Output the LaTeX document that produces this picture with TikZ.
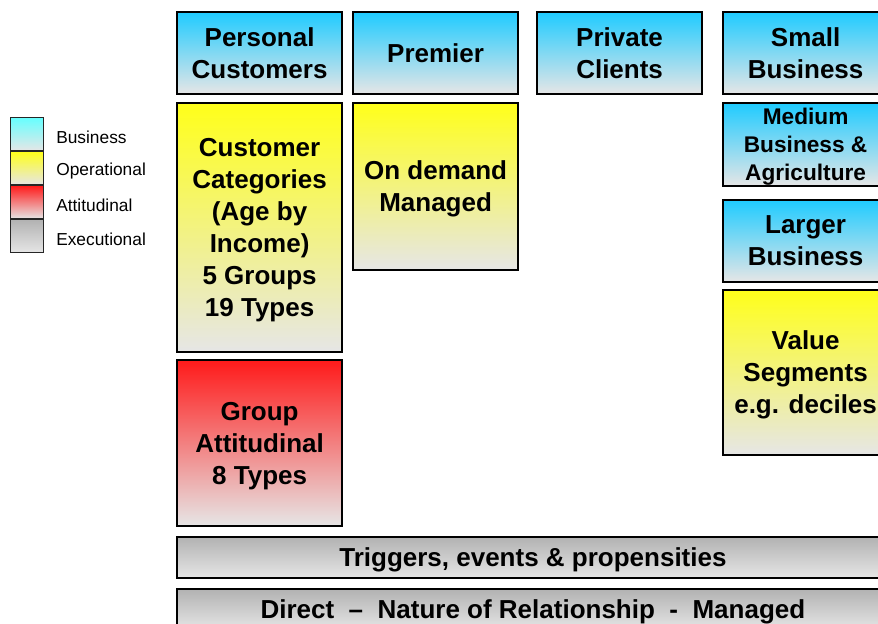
\documentclass[tikz,border=0pt]{standalone}
\usepackage{fontspec}
\setmainfont{Liberation Sans}
\usepackage{tikz}

\definecolor{bizblue}{HTML}{1FCBFF}
\definecolor{legblue}{HTML}{66FFFF}
\definecolor{opyellow}{HTML}{FFFF1A}
\definecolor{attred}{HTML}{FF1A1A}
\definecolor{exgrey}{HTML}{B2B2B2}
\definecolor{fadegrey}{HTML}{E6E6E6}

\begin{document}
\begin{tikzpicture}[x=0.75pt,y=-0.75pt,
    box/.style={draw=black, line width=1.4pt, anchor=north west, minimum width=124pt,
      minimum height=61.5pt, align=center, inner sep=0pt, text depth=0pt,
      font=\bfseries\fontsize{19.5}{24}\selectfont},
    business/.style={box, top color=bizblue, bottom color=fadegrey},
    operational/.style={box, top color=opyellow, bottom color=fadegrey},
    attitudinal/.style={box, top color=attred, bottom color=fadegrey},
    executional/.style={box, top color=exgrey, bottom color=fadegrey,
      minimum width=534pt, minimum height=30.75pt},
    legbox/.style={draw=black!85, line width=0.75pt, anchor=north west,
      minimum width=25pt, minimum height=25pt, inner sep=0pt},
    legtext/.style={anchor=west, inner sep=0pt, font=\fontsize{13}{15}\selectfont}]
    \useasboundingbox (0,0) rectangle (878,624);
    \clip (0,0) rectangle (878,624);

    % legend
    \node[legbox, top color=legblue, bottom color=fadegrey] (legbiz) at (10,117) {};
    \node[legbox, top color=opyellow, bottom color=fadegrey] (legop) at (10,151) {};
    \node[legbox, top color=attred, bottom color=fadegrey] (legatt) at (10,185) {};
    \node[legbox, top color=exgrey, bottom color=fadegrey] (legex) at (10,219) {};
    \node[legtext] (legbiztxt) at (56,137) {Business};
    \node[legtext] (legoptxt) at (56,171) {Operational};
    \node[legtext] (legatttxt) at (56,205) {Attitudinal};
    \node[legtext] (legextxt) at (56,239) {Executional};

    % top row
    \node[business] (personal) at (176,11) {Personal\\Customers};
    \node[business] (premier) at (352,11) {Premier};
    \node[business] (private) at (536,11) {Private\\Clients};
    \node[business] (small) at (722,11) {Small\\Business};

    % personal column
    \node[operational, minimum height=186.75pt, text depth=-4pt] (categories) at (176,102)
      {Customer\\Categories\\(Age by\\Income)\\5 Groups\\19 Types};
    \node[attitudinal, minimum height=124.5pt] (attitude) at (176,359)
      {Group\\Attitudinal\\8 Types};

    % premier column
    \node[operational, minimum height=125.25pt] (ondemand) at (352,102)
      {On demand\\Managed};

    % business column
    \node[business, minimum height=62.25pt, font=\bfseries\fontsize{17}{21}\selectfont]
      (medium) at (722,102) {Medium\\Business \&\\Agriculture};
    \node[business] (larger) at (722,199) {Larger\\Business};
    \node[operational, minimum height=123.75pt] (value) at (722,289)
      {Value\\Segments\\e.g. deciles};

    % bars
    \node[executional] (triggers) at (176,536) {Triggers, events \& propensities};
    \node[executional] (nature) at (176,588) {Direct\ \ --\ \ Nature of Relationship\ \ -\ \ Managed};
\end{tikzpicture}
\end{document}
